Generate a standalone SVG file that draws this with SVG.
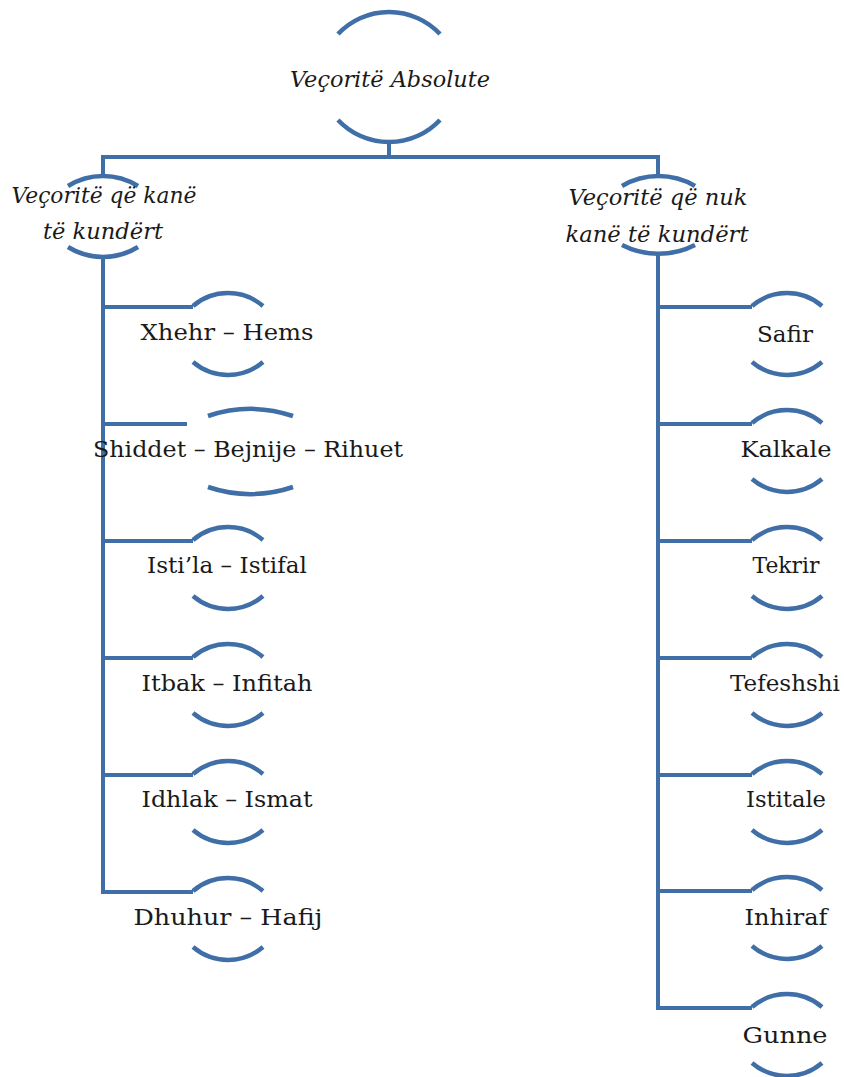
<svg xmlns="http://www.w3.org/2000/svg" width="844" height="1077" viewBox="0 0 844 1077">
<style>
.ln{fill:none;stroke:#3f6fa6;stroke-width:4;stroke-linecap:butt;stroke-linejoin:miter}
.arc{fill:none;stroke:#3f6fa6;stroke-width:4.5;stroke-linecap:butt}
.t{font-family:"DejaVu Serif","Liberation Serif",serif;font-size:23px;fill:#1a1a1a;text-anchor:middle}
.i{font-style:italic;font-size:22px}
</style>
<rect width="844" height="1077" fill="#ffffff"/>
<g id="connectors">
<path class="ln" d="M103,177 V157 H658 V177"/>
<path class="ln" d="M389,143 V157"/>
<path class="ln" d="M103,257 V892 H193"/>
<path class="ln" d="M103,307 H193 M103,424 H187 M103,541 H193 M103,658 H193 M103,775 H193"/>
<path class="ln" d="M658,253 V1008 H752"/>
<path class="ln" d="M658,307 H752 M658,424 H752 M658,541 H752 M658,658 H752 M658,775 H752 M658,891 H752"/>
</g>
<g id="root">
<path class="arc" d="M338,34 A70 70 0 0 1 440,34"/>
<path class="arc" d="M338,120 A70 70 0 0 0 440,120"/>
<text class="t i" x="390" y="87" textLength="200" lengthAdjust="spacingAndGlyphs">Veçoritë Absolute</text>
</g>
<g id="left-header">
<path class="arc" d="M68,186 A66 66 0 0 1 138,186"/>
<path class="arc" d="M68,247 A66 66 0 0 0 138,247"/>
<text class="t i" x="104" y="203" textLength="185" lengthAdjust="spacingAndGlyphs">Veçoritë që kanë</text>
<text class="t i" x="103" y="239" textLength="120" lengthAdjust="spacingAndGlyphs">të kundërt</text>
</g>
<g id="right-header">
<path class="arc" d="M622,186 A72 72 0 0 1 695,186"/>
<path class="arc" d="M622,245 A80 80 0 0 0 695,245"/>
<text class="t i" x="658" y="205" textLength="179" lengthAdjust="spacingAndGlyphs">Veçoritë që nuk</text>
<text class="t i" x="657" y="242" textLength="183" lengthAdjust="spacingAndGlyphs">kanë të kundërt</text>
</g>
<g id="l1">
<path class="arc" d="M193,306 A54 54 0 0 1 263,306"/>
<path class="arc" d="M193,362 A54 54 0 0 0 263,362"/>
<text class="t" x="227" y="340" textLength="173" lengthAdjust="spacingAndGlyphs">Xhehr – Hems</text>
</g>
<g id="l2">
<path class="arc" d="M208,416 A133 133 0 0 1 293,416"/>
<path class="arc" d="M208,487 A133 133 0 0 0 293,487"/>
<text class="t" x="248" y="457" textLength="310" lengthAdjust="spacingAndGlyphs">Shiddet – Bejnije – Rihuet</text>
</g>
<g id="l3">
<path class="arc" d="M193,540 A54 54 0 0 1 263,540"/>
<path class="arc" d="M193,596 A54 54 0 0 0 263,596"/>
<text class="t" x="227" y="573" textLength="160" lengthAdjust="spacingAndGlyphs">Isti’la – Istifal</text>
</g>
<g id="l4">
<path class="arc" d="M193,657 A54 54 0 0 1 263,657"/>
<path class="arc" d="M193,713 A54 54 0 0 0 263,713"/>
<text class="t" x="227" y="691" textLength="171" lengthAdjust="spacingAndGlyphs">Itbak – Infitah</text>
</g>
<g id="l5">
<path class="arc" d="M193,774 A54 54 0 0 1 263,774"/>
<path class="arc" d="M193,830 A54 54 0 0 0 263,830"/>
<text class="t" x="227" y="807" textLength="171" lengthAdjust="spacingAndGlyphs">Idhlak – Ismat</text>
</g>
<g id="l6">
<path class="arc" d="M193,891 A54 54 0 0 1 263,891"/>
<path class="arc" d="M193,947 A54 54 0 0 0 263,947"/>
<text class="t" x="228" y="925" textLength="189" lengthAdjust="spacingAndGlyphs">Dhuhur – Hafij</text>
</g>
<g id="r1">
<path class="arc" d="M752,306 A54 54 0 0 1 822,306"/>
<path class="arc" d="M752,362 A54 54 0 0 0 822,362"/>
<text class="t" x="785" y="342" textLength="56" lengthAdjust="spacingAndGlyphs">Safir</text>
</g>
<g id="r2">
<path class="arc" d="M752,423 A54 54 0 0 1 822,423"/>
<path class="arc" d="M752,479 A54 54 0 0 0 822,479"/>
<text class="t" x="786" y="457" textLength="91" lengthAdjust="spacingAndGlyphs">Kalkale</text>
</g>
<g id="r3">
<path class="arc" d="M752,540 A54 54 0 0 1 822,540"/>
<path class="arc" d="M752,596 A54 54 0 0 0 822,596"/>
<text class="t" x="786" y="573" textLength="67" lengthAdjust="spacingAndGlyphs">Tekrir</text>
</g>
<g id="r4">
<path class="arc" d="M752,657 A54 54 0 0 1 822,657"/>
<path class="arc" d="M752,713 A54 54 0 0 0 822,713"/>
<text class="t" x="785" y="691" textLength="110" lengthAdjust="spacingAndGlyphs">Tefeshshi</text>
</g>
<g id="r5">
<path class="arc" d="M752,774 A54 54 0 0 1 822,774"/>
<path class="arc" d="M752,830 A54 54 0 0 0 822,830"/>
<text class="t" x="786" y="807" textLength="80" lengthAdjust="spacingAndGlyphs">Istitale</text>
</g>
<g id="r6">
<path class="arc" d="M752,890 A54 54 0 0 1 822,890"/>
<path class="arc" d="M752,946 A54 54 0 0 0 822,946"/>
<text class="t" x="786" y="925" textLength="83" lengthAdjust="spacingAndGlyphs">Inhiraf</text>
</g>
<g id="r7">
<path class="arc" d="M752,1007 A54 54 0 0 1 822,1007"/>
<path class="arc" d="M752,1063 A54 54 0 0 0 822,1063"/>
<text class="t" x="785" y="1043" textLength="85" lengthAdjust="spacingAndGlyphs">Gunne</text>
</g>
</svg>
